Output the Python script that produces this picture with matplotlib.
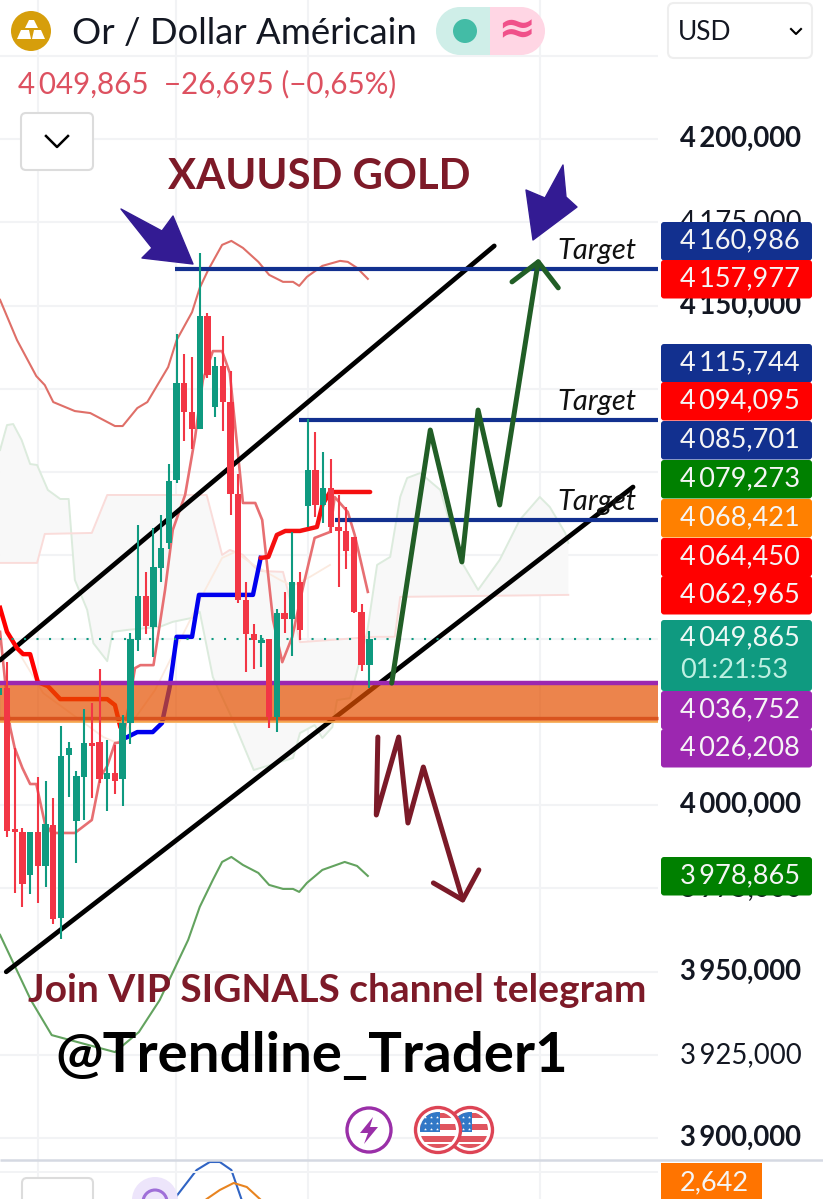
import numpy as np
import matplotlib
matplotlib.use("Agg")
import matplotlib.pyplot as plt
from matplotlib.patches import Circle, FancyBboxPatch, Polygon, Rectangle, Wedge

plt.rcParams['font.family'] = ['Lato', 'DejaVu Sans']

# candles, one row per session, starting at bar -1
opens = [4033, 4035.1, 3992.8, 3991.9, 3979, 3991.9, 3981.7, 3994, 3966.1, 4015, 3995.2, 4008.4, 4018.6,
         4018.9, 4007.8, 4009.6, 4007.8, 4024.6, 4049.5, 4062.8, 4053.5, 4071.2, 4078.7, 4097.6, 4126.7,
         4118, 4112.9, 4146.8, 4119.5, 4131.8, 4121, 4093.4, 4061.6, 4051.4, 4048.6, 4049.8, 4026.4, 4057.7,
         4055.9, 4067, 4089.8, 4100.6, 4090.1, 4095.2, 4083.5, 4082.3, 4080.5, 4058, 4042]
closes = [4035, 3992.2, 3991.9, 3976.3, 3991.9, 3981.7, 3994.3, 3965.8, 4014.7, 4017.1, 4008.7, 4018.6, 4017.7,
          4007.8, 4009.6, 4007.2, 4024.6, 4049.8, 4062.8, 4053.8, 4071.5, 4077.2, 4097.3, 4126.7, 4118,
          4112.9, 4146.8, 4129.1, 4131.8, 4121, 4093.4, 4061.6, 4051.4, 4049.5, 4049.5, 4026.4, 4057.7, 4055.9,
          4067, 4052.6, 4100.6, 4090.1, 4095.2, 4083.5, 4082.3, 4076.3, 4058, 4042, 4049.8]
highs = [4035, 4042.9, 4017.1, 3993.1, 3991.9, 4008.4, 4007.2, 4002.1, 4023.7, 4018.9, 4010.2, 4028.8, 4030.6,
         4040.8, 4019.5, 4018, 4027, 4051.7, 4084.1, 4070, 4083.2, 4087.1, 4102.4, 4141.4, 4135.4,
         4134.5, 4165.8, 4147.7, 4134.5, 4140.8, 4130.3, 4099.4, 4067, 4054.4, 4051, 4049.8, 4058.9, 4064,
         4082, 4070, 4115.9, 4112, 4106, 4103.9, 4093.1, 4089.5, 4080.5, 4060.4, 4052.2]
lows = [4025.5, 3990.4, 3973.6, 3969.4, 3973.3, 3970.6, 3975.4, 3964.3, 3959.8, 4002.4, 3982.6, 3995.5, 4002.1,
        4006.6, 3998.2, 4003.3, 3999.7, 4018.3, 4046.2, 4051.4, 4044.4, 4067, 4076.9, 4096.7, 4109.3,
        4106.9, 4112.9, 4128.2, 4116.5, 4112.3, 4087.1, 4060.7, 4039.9, 4040.8, 4041.4, 4023.1, 4021.9, 4051.7,
        4044.7, 4049.5, 4083.5, 4086.5, 4084.7, 4081.7, 4065.5, 4070.9, 4057.7, 4040.2, 4035.1]

# bollinger style envelope
upper_x = [-0.9, 1.3, 3.8, 4.9, 6, 8.8, 10.8, 14, 15, 16.9, 18.2, 20.9, 22, 24, 25, 26.1, 27.9, 29.1, 30.6, 32.6,
           34, 35.8, 37.1, 37.9, 38.9, 40.9, 43.2, 44.2, 45.4, 46.8]
upper_p = [4151.7, 4139.6, 4128.8, 4126.1, 4121, 4118.3, 4117.7, 4113.8, 4113.8, 4119.2, 4121, 4131.5, 4139.6,
           4148, 4155.3, 4160.7, 4168.2, 4169.4, 4167.3, 4163.1, 4159.2, 4157.1, 4157.1, 4155.9, 4158.6, 4161.9,
           4163.4, 4163.1, 4161.3, 4158]
lower_x = [-0.9, 3.1, 5.8, 10.6, 14, 17.1, 19.8, 23.5, 25, 26.7, 27.9, 29.1, 30.6, 32.6, 34, 35.8, 37.1, 37.9,
           38.9, 40.9, 43.8, 45.4, 46.8]
lower_p = [3961, 3941.4, 3930.9, 3927.9, 3925.8, 3931.8, 3941.4, 3959.5, 3969.4, 3977.5, 3982.9, 3984.4, 3982,
           3979.6, 3976, 3974.8, 3974.8, 3973.9, 3976.6, 3980.5, 3982.9, 3981.7, 3978.7]
basis_x = [-0.9, -0.3, 0.4, 1, 2, 3, 3.8, 4.9, 5.8, 8.8, 11, 12.1, 13, 14, 15, 16.6, 17.3, 19, 20.5, 21.5, 23.1,
           24.4, 25.4, 26.7, 27.9, 28.9, 30.6, 32.2, 33.1, 34.5, 35.7, 37, 38.4, 39.9, 41.9, 42.5, 44.2, 45.1, 46.8]
basis_p = [4052, 4038.4, 4023.4, 4017.1, 4011.1, 4006.3, 4006.3, 3994.6, 3991.6, 3991.6, 3995.5, 4008.4, 4011.7,
           4018.6, 4018.9, 4041.1, 4042, 4042, 4064.6, 4082.6, 4093.1, 4110.5, 4127.6, 4136.3, 4136.3, 4129.7,
           4090.7, 4090.7, 4085.6, 4055.6, 4042.9, 4050.5, 4065.5, 4080.2, 4082, 4092.5, 4088, 4081.1, 4064]

# supertrend pieces
st_red1_x = [-0.9, 0, 1.3, 2.1, 3, 4, 5.3, 6.9, 13, 14, 14.7, 15]
st_red1_p = [4059.2, 4052, 4047.1, 4045.3, 4045.3, 4036.9, 4035.7, 4031.8, 4031.8, 4030, 4023.4, 4022.5]
st_blue_x = [15.6, 16.9, 18.9, 20.1, 21.1, 22, 24, 24.9, 31.9, 32.9]
st_blue_p = [4020.4, 4021.9, 4021.9, 4024.6, 4035.4, 4050.5, 4050.5, 4063.1, 4063.1, 4074.2]
st_red2_x = [32.9, 33.9, 35, 36.1, 38, 40.2, 40.9, 41.9, 47.1]
st_red2_p = [4074.2, 4074.5, 4081.1, 4082.3, 4082.3, 4083.5, 4090.1, 4094, 4094]

# ichimoku cloud
span_a_x = [-0.9, 0, 0.8, 1.9, 3, 3.9, 5.3, 6.9, 8, 8.8, 10.4, 11.2, 13, 13.7, 15.7, 19.8, 21.5, 24, 25, 26.7, 29.3,
            32, 37.1, 38, 39.9, 40.9, 42.2, 42.8, 44.5, 46.7, 48, 49.7, 51, 51.9, 53.6, 56.2, 58.8, 61.1, 63.9,
            66.5, 69.1, 70.4, 72.4, 72.8]
span_a_p = [4106.6, 4114.1, 4114.4, 4109.6, 4102.4, 4102.1, 4094.6, 4091.9, 4091.9, 4067.6, 4058.6, 4048.6, 4043.2,
            4052, 4052.6, 4053.5, 4055, 4056.2, 4058, 4038.4, 4025.5, 4010.5, 4014.1, 4021.6, 4024, 4020.1, 4023.4,
            4031.5, 4032.1, 4051.7, 4072.1, 4074.5, 4092.5, 4098.2, 4099.7, 4094.6, 4073.6, 4064.6, 4073.6,
            4085.6, 4092.5, 4089.5, 4081.7, 4078.7]
span_b_x = [-0.9, 3.9, 4.9, 11, 13, 25.9, 27.9, 28.9, 30.6, 32.6, 35.8, 36.4, 38, 47.7, 50.3, 51, 72.8]
span_b_p = [4072.7, 4072.7, 4081.4, 4081.7, 4093.1, 4093.1, 4075.1, 4076.6, 4075.1, 4070.3, 4070, 4064.6, 4048.9,
            4050.5, 4050.5, 4062.5, 4063.1]
base_x = [0.8, 4.7, 12.5, 14.3, 19.2, 21.8, 25.7, 27.9, 29.6, 32, 35.4, 37, 39.3, 41.9]
base_p = [4048.6, 4033.6, 4020.4, 4018.6, 4034.5, 4046.5, 4064.6, 4074.2, 4076, 4072.1, 4067.6, 4065.8, 4068.5, 4072.1]

# hand drawn things
channel_up_x, channel_up_p = [-0.9, 63.2], [4043.5, 4167.9]
channel_lo_x, channel_lo_p = [-0.1, 81.2], [3949.9, 4095.5]
bull_x = [49.9, 54.9, 59, 61.1, 63.9, 68.9]
bull_p = [4036.6, 4112.6, 4073, 4118.6, 4090.1, 4163.1]
bull_head_x, bull_head_p = [65.5, 68.9, 71.5], [4157.1, 4163.1, 4155.3]
bear_x = [48.1, 47.9, 50.8, 52, 54, 59.1]
bear_p = [4020.4, 3997, 4020.4, 3994.6, 4011.4, 3971.5]
bear_head_x, bear_head_p = [55.3, 59.1, 61.2], [3976.6, 3971.5, 3980.5]

target_levels = [4160.986, 4115.744, 4085.701]
target_starts = [21.8, 37.9, 42.5]
last_price = 4049.865
zone_top, zone_bottom = 4036.752, 4026.208

# lower pane
pane_blue_x, pane_blue_v = [21.7, 24.6, 26.3, 27.6, 29.1, 30.4], [0, 29, 37, 37, 29, 0]
pane_orange_x, pane_orange_v = [25.9, 27.6, 29.4, 31.1, 32.8], [0, 9, 16, 12, 0]

grid_prices = [4225, 4200, 4175, 4150, 4125, 4100, 4075, 4050, 4025, 4000, 3975, 3950, 3925, 3900]
grid_bars = [4, 21.9, 39, 69.1]
axis_labels = ['4\u2009175,000', '4\u2009200,000', '4\u2009150,000', '4\u2009000,000', '3\u2009975,000',
               '3\u2009950,000', '3\u2009925,000', '3\u2009900,000']
axis_values = [4175, 4200, 4150, 4000, 3975, 3950, 3925, 3900]
axis_bold = [False, True, True, True, False, True, False, True]

tag_labels = ['4\u2009160,986', '4\u2009157,977', '4\u2009115,744', '4\u2009094,095', '4\u2009085,701', '4\u2009079,273',
              '4\u2009068,421', '4\u2009064,450', '4\u2009062,965', '4\u2009036,752', '4\u2009026,208', '3\u2009978,865']
tag_colors = ['#12308f', '#ff0000', '#12308f', '#ff0000', '#12308f', '#008000',
              '#ff8000', '#ff0000', '#ff0000', '#9c27b0', '#9c27b0', '#008000']
tag_tops = [222, 260, 344, 382, 421, 460, 499, 538, 576, 691, 729, 857]

UP = '#0f9a80'
DOWN = '#f23645'
W, H = 823, 1199

fig = plt.figure(figsize=(W / 100, H / 100), dpi=100, facecolor='white')

# main chart, bars across and price up the side
ax = fig.add_axes([0, 0, 1, 1], zorder=1)
ax.set_xlim(-7 / 7.71, (W - 7) / 7.71)
ax.set_ylim(4000 - (H - 805) / 3.33, 4000 + 805 / 3.33)
ax.axis('off')
END = 84.4

ax.hlines(grid_prices, -1, END, color='#f2f3f5', lw=1.5, zorder=1)
ax.vlines(grid_bars, 3870, 4250, color='#f2f3f5', lw=1.5, zorder=1)

ax.fill(np.r_[span_a_x, span_b_x[::-1]], np.r_[span_a_p, span_b_p[::-1]], color='#f8f8f8', lw=0, zorder=1.5)
ax.plot(span_a_x, span_a_p, color='#dcebdd', lw=1.4, zorder=2)
ax.plot(span_b_x, span_b_p, color='#fadcda', lw=1.4, zorder=2)
ax.plot(base_x, base_p, color='#fbeadf', lw=1.3, zorder=2)

ax.plot(upper_x, upper_p, color='#df6f68', lw=1.5, zorder=3)
ax.plot(lower_x, lower_p, color='#63a35f', lw=1.5, zorder=3)
ax.plot(basis_x, basis_p, color='#e76f72', lw=1.9, zorder=3)

ax.plot(channel_up_x, channel_up_p, color='black', lw=3.4, solid_capstyle='round', zorder=4)
ax.plot(channel_lo_x, channel_lo_p, color='black', lw=3.4, solid_capstyle='round', zorder=4)

ax.plot(st_red1_x, st_red1_p, color='#ff0000', lw=3.2, solid_joinstyle='round', zorder=4)
ax.plot(st_blue_x, st_blue_p, color='#0000ee', lw=3.2, solid_joinstyle='round', zorder=4)
ax.plot(st_red2_x, st_red2_p, color='#f50f0f', lw=3.2, solid_capstyle='round', solid_joinstyle='round', zorder=4)

# support zone sits over the lines but under the candles
ax.fill_between([-1, END], zone_bottom - 1.2, zone_top, color='#e55000', alpha=0.7, lw=0, zorder=5)
ax.hlines(zone_bottom, -1, END, color='#d9531e', lw=2.4, zorder=5)
ax.hlines(zone_bottom - 1.2, -1, END, color='#f8a94f', lw=1.2, zorder=5)
ax.hlines(zone_top, -1, END, color='#9c27b0', lw=3.2, zorder=5.1)
ax.hlines(target_levels, target_starts, END, color='#12308f', lw=3, zorder=5)
ax.hlines(last_price, -1, END, color='#0f9a80', lw=1.5, linestyles=(0, (1, 5)), zorder=5)

bars = np.arange(-1, len(opens) - 1)
colors = [UP if c >= o else DOWN for o, c in zip(opens, closes)]
ax.vlines(bars, lows, highs, color=colors, lw=1.5, zorder=6)
heights = np.array(closes) - np.array(opens)
ax.bar(bars, heights, bottom=opens, width=0.82, color=colors, lw=0, zorder=6)

ax.plot(bull_x, bull_p, color='#215e26', lw=3.6, solid_joinstyle='round', solid_capstyle='round', zorder=7)
ax.plot(bull_head_x, bull_head_p, color='#215e26', lw=3.6, solid_capstyle='round', zorder=7)
ax.plot(bear_x, bear_p, color='#7b1a28', lw=3.6, solid_joinstyle='round', solid_capstyle='round', zorder=7)
ax.plot(bear_head_x, bear_head_p, color='#7b1a28', lw=3.6, solid_capstyle='round', zorder=7)

# lower pane, only its top shows
pane = fig.add_axes([0, 0, 1, 39 / H], zorder=1.5)
pane.set_xlim(ax.get_xlim())
pane.set_ylim(0, 39)
pane.axis('off')
pane.plot(pane_blue_x, pane_blue_v, color='#3064c4', lw=1.5)
pane.plot(pane_orange_x, pane_orange_v, color='#e88420', lw=1.5)

# everything from the app's interface and the text on top, in pixels
ui = fig.add_axes([0, 0, 1, 1], zorder=2)
ui.set_xlim(0, W)
ui.set_ylim(H, 0)
ui.axis('off')
ui.patch.set_alpha(0)


def label(x, y, s, size, color='#131722', weight='normal', style='normal', z=10):
    return ui.text(x, y, s, fontsize=size, color=color, fontweight=weight, fontstyle=style,
                   ha='left', va='center', zorder=z)


def box(x0, y0, x1, y1, fc, ec='none', r=3, lw=1.5, z=8):
    ui.add_patch(FancyBboxPatch((x0, y0), x1 - x0, y1 - y0, boxstyle=f'round,pad=0,rounding_size={r}',
                                fc=fc, ec=ec, lw=lw, zorder=z))


def flag(cx, cy, z):
    disc = Circle((cx, cy), 22.5, fc='white', ec='#dd4455', lw=2.4, zorder=z)
    ui.add_patch(disc)
    clip = Circle((cx, cy), 18, transform=ui.transData)
    for y0, h in [(-17, 5), (-6, 6), (6, 6), (14, 5)]:
        s = Rectangle((cx - 20, cy + y0), 40, h, fc='#e0555f', lw=0, zorder=z)
        ui.add_patch(s)
        s.set_clip_path(clip)
    c = Rectangle((cx - 20, cy - 18), 22, 20, fc='#3178c6', lw=0, zorder=z)
    ui.add_patch(c)
    c.set_clip_path(clip)
    sx, sy = np.meshgrid([cx - 13, cx - 7, cx - 1], [cy - 13, cy - 7, cy - 1])
    ui.scatter(sx.ravel(), sy.ravel(), s=5, c='white', marker='*', lw=0, zorder=z)


# header
ui.add_patch(Circle((31, 31), 20, fc='#d69e0b', lw=0, zorder=8))
for pts in [[(25, 28), (29, 20), (34, 20), (38, 28)], [(17, 39), (21, 30), (29, 30), (31, 39)],
            [(32, 39), (34, 30), (41, 30), (45, 39)]]:
    ui.add_patch(Polygon(pts, fc='white', lw=0, zorder=9))
label(72, 33, 'Or / Dollar Américain', 26.3)
ui.add_patch(Wedge((460, 31), 24, 90, 270, fc='#cfeee8', lw=0, zorder=8))
ui.add_patch(Rectangle((460, 7), 30, 48, fc='#cfeee8', lw=0, zorder=8))
ui.add_patch(Rectangle((490, 7), 31, 48, fc='#ffd6e4', lw=0, zorder=8))
ui.add_patch(Wedge((521, 31), 24, 270, 90, fc='#ffd6e4', lw=0, zorder=8))
ui.add_patch(Circle((465, 31), 12, fc='#43bca6', lw=0, zorder=9))
ui.text(516, 31, '\u2248', fontsize=33, color='#f0518a', fontweight='bold', ha='center', va='center',
        family='DejaVu Sans', zorder=9)
label(18, 84, '4\u2009049,865  \u221226,695 (\u22120,65%)', 21.3, color='#dd5160')

box(21, 113, 93, 170, 'white', ec='#dcdcdc', r=5)
ui.plot([46, 57, 68], [136, 147, 136], color='black', lw=1.8, zorder=9)
box(668, 3, 812, 58, 'white', ec='#eeeeee', r=6)
label(678, 32, 'USD', 19)
ui.plot([791, 796, 801], [29, 34, 29], color='black', lw=1.5, zorder=9)

# chart annotations
label(168, 177, 'XAUUSD GOLD', 30.2, color='#7d1a28', weight='bold')
label(28, 991, 'Join VIP SIGNALS channel telegram', 28, color='#7d1a28', weight='bold')
label(55, 1056, '@Trendline_Trader1', 40.6, color='black', weight='bold')
for y in [251, 402, 502]:
    label(557, y, 'Target', 21, color='#111111', style='italic')

ui.add_patch(Polygon([(121, 209), (162, 231), (173, 216), (193, 264), (142, 258), (152, 248)],
                     fc='#331b93', ec='#331b93', lw=1, joinstyle='round', zorder=8))
ui.add_patch(Polygon([(563, 165), (566, 197), (577, 207), (533, 240), (526, 190), (545, 198)],
                     fc='#331b93', ec='#331b93', lw=1, joinstyle='round', zorder=8))

# price axis
for val, txt, bold in zip(axis_values, axis_labels, axis_bold):
    y = ui.transData.inverted().transform(ax.transData.transform((0, val)))[1]
    label(680, y, txt, 19.8, weight='bold' if bold else 'normal', z=7)
label(680, 1176, '25,000', 19, weight='bold', z=7)

for top, txt, col in zip(tag_tops, tag_labels, tag_colors):
    box(661, top, 812, top + 38.5, col, z=8)
    label(680, top + 19, txt, 19.5, color='#f5f5f5', z=9)
box(661, 620, 812, 691, '#0f9a80', z=8)
label(680, 638, '4\u2009049,865', 19.5, color='#eef8f5', z=9)
label(680, 670, '01:21:53', 19.5, color='#bdf0e2', z=9)

ui.add_patch(Rectangle((661, 1163), 101, 36, fc='#ff7400', lw=0, zorder=8))
label(680, 1183, '2,642', 19.5, color='#f5f5f5', z=9)

# pane divider and the bottom buttons
ui.hlines(1160, 0, W, color='#d5d9e2', lw=1.8, zorder=3)
ui.hlines(1172, 0, 658, color='#f2f3f5', lw=1.4, zorder=3)
box(22, 1178, 93, 1215, 'white', ec='#dcdcdc', r=5)
ui.add_patch(Circle((155, 1200), 23, fc='#ede5fb', lw=0, zorder=8))
ui.add_patch(Circle((155, 1202), 12, fc='none', ec='#9f6fd8', lw=2.2, zorder=9))

# event icons
ui.add_patch(Circle((369, 1130), 22, fc='white', ec='#9a2fa8', lw=2.4, zorder=8))
ui.add_patch(Polygon([(373, 1117), (360, 1133), (368, 1133), (364, 1144), (378, 1127), (370, 1127)],
                     fc='#9a2fa8', lw=0, zorder=9))
flag(470, 1130, 8)
flag(438, 1130, 9)

fig.savefig('out.png', dpi=100)
